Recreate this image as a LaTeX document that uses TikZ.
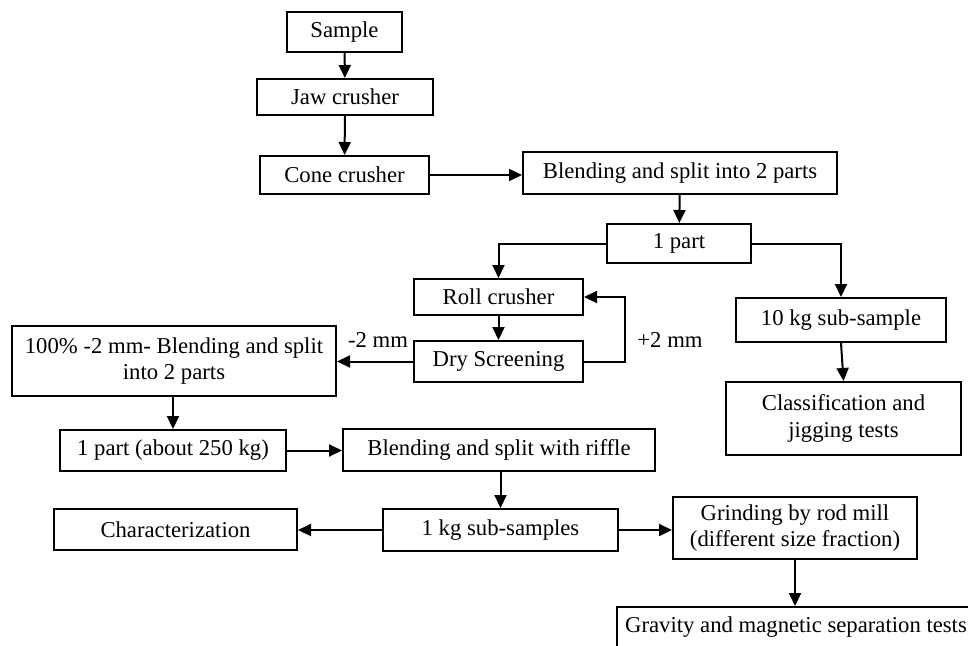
\documentclass[tikz,border=0pt]{standalone}
\usepackage{fontspec}
\setmainfont{Liberation Serif}
\usetikzlibrary{arrows.meta}
\begin{document}
\begin{tikzpicture}[x=1pt,y=-1pt,
  every node/.style={font=\fontsize{22.7}{26.5}\selectfont, inner sep=0pt, align=center},
  box/.style={draw, line width=2pt, rectangle},
  conn/.style={line width=2pt, -{Triangle[length=13pt,width=12pt]}},
  lbl/.style={}]
\useasboundingbox (0,0) rectangle (968,645);
\clip (0,0) rectangle (968,645);
\fill[white] (0,0) rectangle (968,645);
\node[box, minimum width=115pt, minimum height=40pt] (sample) at (344.5,32) {Sample};
\node[box, minimum width=176pt, minimum height=36pt] (jaw) at (345,97) {Jaw crusher};
\node[box, minimum width=169pt, minimum height=38pt] (cone) at (344.5,175) {Cone crusher};
\node[box, minimum width=314pt, minimum height=42pt] (blend2) at (680,173) {Blending and split into 2 parts};
\node[box, minimum width=144pt, minimum height=39pt] (part1) at (679,243.5) {1 part};
\node[box, minimum width=169pt, minimum height=36pt] (roll) at (498.5,297) {Roll crusher};
\node[box, minimum width=169pt, minimum height=41pt] (dry) at (498.5,361.5) {Dry Screening};
\node[box, minimum width=324pt, minimum height=70pt] (hundred) at (174,361) {100\% -2 mm- Blending and split\\into 2 parts};
\node[box, minimum width=210pt, minimum height=44pt] (tenkg) at (841,320) {10 kg sub-sample};
\node[box, minimum width=235pt, minimum height=73pt] (classif) at (843.5,418.5) {Classification and\\jigging tests};
\node[box, minimum width=226pt, minimum height=41pt] (part250) at (173,450.5) {1 part (about 250 kg)};
\node[box, minimum width=312pt, minimum height=42pt] (riffle) at (499,450) {Blending and split with riffle};
\node[box, minimum width=243pt, minimum height=41pt] (charac) at (175.5,529.5) {Characterization};
\node[box, minimum width=235pt, minimum height=42pt] (onekg) at (500.5,530) {1 kg sub-samples};
\node[box, minimum width=244pt, minimum height=62pt] (grinding) at (795,528) {Grinding by rod mill\\(different size fraction)};
\node[box, minimum width=358pt, minimum height=40pt] (gravity) at (796,627) {Gravity and magnetic separation tests};
\node[lbl] (plus) at (670,340) {+2 mm};
\node[lbl] (minus) at (378,340) {-2 mm};
\draw[conn] (sample) -- (jaw);
\draw[conn] (jaw) -- (cone);
\draw[conn] (cone.east) -- (blend2.west |- cone.east);
\draw[conn] (blend2) -- (part1);
\draw[conn] (part1.west) -| (roll.north);
\draw[conn] (part1.east) -| (tenkg.north);
\draw[conn] (roll) -- (dry);
\draw[conn] (dry.east) -- ++(41,0) |- (roll.east);
\draw[conn] (dry.west) -- (hundred.east |- dry.west);
\draw[conn] (hundred.south -| part250.north) -- (part250.north);
\draw[conn] (part250.east) -- (riffle.west |- part250.east);
\draw[conn] (riffle.south -| onekg.north) -- (onekg.north);
\draw[conn] (onekg.west) -- (charac.east |- onekg.west);
\draw[conn] (onekg.east) -- (grinding.west |- onekg.east);
\draw[conn] (grinding.south) -- (gravity.north -| grinding.south);
\draw[conn] (tenkg.south) -- (classif.north);
\end{tikzpicture}
\end{document}
